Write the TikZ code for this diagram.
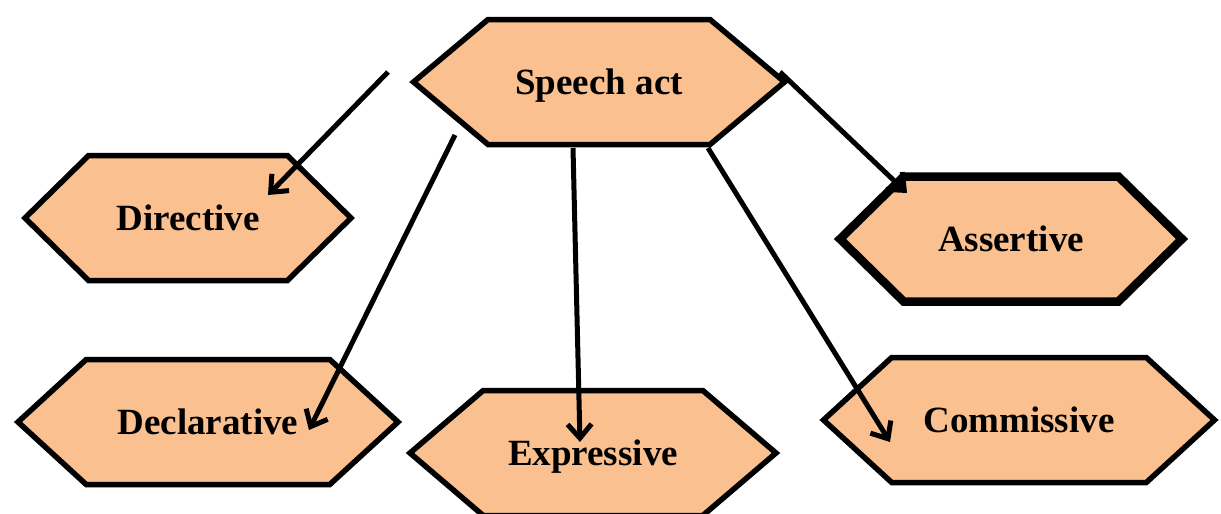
\documentclass[tikz,border=0pt]{standalone}
\usepackage{fontspec}
\setmainfont{Liberation Serif}
\usetikzlibrary{shapes.symbols,arrows.meta}
\definecolor{hexfill}{HTML}{FAC090}

\tikzset{
  acthex/.style={signal, signal to=west and east, draw=black, line width=5.5pt,
    fill=hexfill, inner sep=0pt, minimum height=125pt, text depth=0pt,
    font=\fontsize{37}{40}\selectfont\bfseries},
  actarrow/.style={-{Straight Barb[length=14pt,width=24pt]}, line width=5pt}
}

\begin{document}
\begin{tikzpicture}[x=1pt,y=-1pt]

    \useasboundingbox (0,0) rectangle (1221,514);

    % Hexagons
    \node[acthex, minimum width=371pt, signal pointer angle=80] (speech) at (599,82) {Speech act};
    \node[acthex, minimum width=326pt, signal pointer angle=89] (directive) at (188,218) {Directive};
    \node[acthex, minimum width=342pt, signal pointer angle=89, line width=8.5pt] (assertive) at (1011,239) {Assertive};
    \node[acthex, minimum width=380pt, signal pointer angle=85] (declarative) at (208,422) {Declarative};
    \node[acthex, minimum width=366pt, signal pointer angle=81] (expressive) at (593,453) {Expressive};
    \node[acthex, minimum width=391pt, signal pointer angle=85] (commissive) at (1019,420) {Commissive};

    % Arrow ends
    \coordinate (s1) at (388,72);   \coordinate (e1) at (268,195);
    \coordinate (s2) at (455,135);  \coordinate (e2) at (309,430);
    \coordinate (s3) at (573,148);  \coordinate (e3) at (580,442);
    \coordinate (s4) at (708,148);  \coordinate (e4) at (890,442);
    \coordinate (s5) at (780,72);   \coordinate (e5) at (907,193);

    % Arrows
    \draw[actarrow] (s1) -- (e1);
    \draw[actarrow] (s2) -- (e2);
    \draw[actarrow] (s3) -- (e3);
    \draw[actarrow] (s4) -- (e4);
    \draw[actarrow] (s5) -- (e5);

\end{tikzpicture}
\end{document}
